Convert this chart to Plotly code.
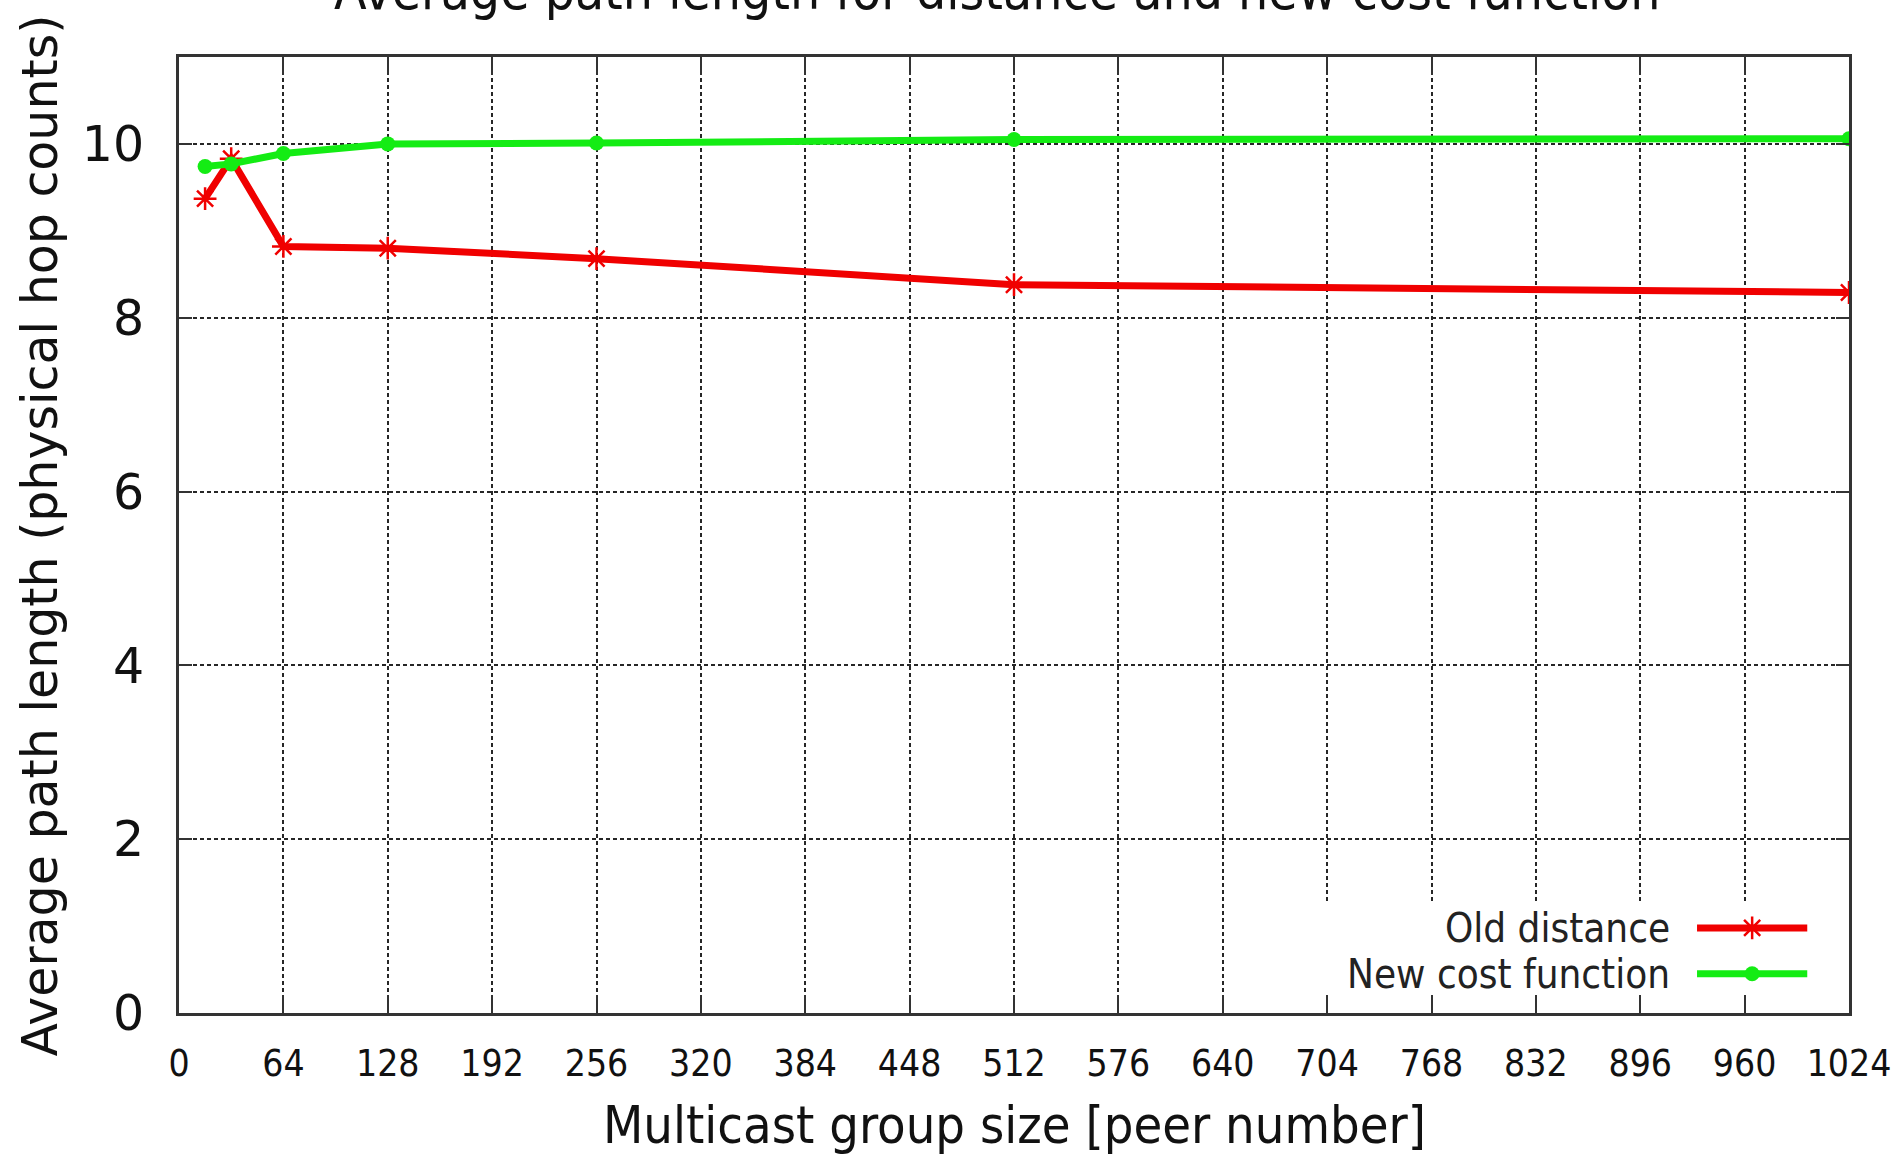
import plotly.graph_objects as go

# Average path length (hop counts) versus multicast group size
group_size = [16, 32, 64, 128, 256, 512, 1024]
old_distance = [9.37, 9.83, 8.82, 8.80, 8.68, 8.38, 8.29]
new_cost = [9.74, 9.77, 9.89, 10.00, 10.01, 10.05, 10.06]
series_names = ["Old distance", "New cost function"]
x_ticks = list(range(0, 1025, 64))
y_ticks = [0, 2, 4, 6, 8, 10]

title_text = "Average path length for distance and new cost function"
x_title = "Multicast group size [peer number]"
y_title = "Average path length (physical hop counts)"

RED = "#f00000"
GREEN = "#14ec14"
AXIS = "#333333"
GRID = "#262626"
COND = "DejaVu Sans Condensed, Liberation Sans Narrow, DejaVu Sans"
SANS = "DejaVu Sans"

W, H = 1902, 1156
ML, MR, MT, MB = 179, 53, 57, 143

fig = go.Figure()

series = [
    (old_distance, RED, dict(symbol="asterisk-open", size=19, color=RED,
                             line=dict(color=RED, width=2.5))),
    (new_cost, GREEN, dict(symbol="circle", size=15, color=GREEN)),
]

for (vals, col, mk), name in zip(series, series_names):
    fig.add_trace(go.Scatter(
        x=group_size, y=vals, name=name, mode="lines+markers",
        line=dict(color=col, width=7), marker=mk, showlegend=False,
    ))

# key drawn on a hidden unit overlay (text left, line sample right);
# an opaque white box underneath hides the grid lines behind the key
box_x = [0.684, 0.985, 0.985, 0.684, 0.684]
box_y = [0.019, 0.019, 0.115, 0.115, 0.019]
fig.add_trace(go.Scatter(
    x=box_x, y=box_y, mode="lines", fill="toself", fillcolor="white",
    line=dict(width=0, color="white"), xaxis="x2", yaxis="y2",
    showlegend=False, hoverinfo="skip",
))

key_rows = [0.089, 0.041]
key_x0, key_x1 = 0.909, 0.975
for (vals, col, mk), name, ky in zip(series, series_names, key_rows):
    fig.add_trace(go.Scatter(
        x=[key_x0, key_x1], y=[ky, ky], mode="lines",
        line=dict(color=col, width=7), xaxis="x2", yaxis="y2",
        showlegend=False, hoverinfo="skip",
    ))
    fig.add_trace(go.Scatter(
        x=[(key_x0 + key_x1) / 2], y=[ky], mode="markers", marker=mk,
        xaxis="x2", yaxis="y2", showlegend=False, hoverinfo="skip",
    ))
    fig.add_annotation(
        x=0.894, y=ky, xref="paper", yref="paper", text=name,
        showarrow=False, xanchor="right", yanchor="middle",
        font=dict(family=COND, size=40, color="#222222"),
    )

axis_common = dict(
    showline=True, linecolor=AXIS, linewidth=3, mirror="allticks",
    ticks="inside", tickcolor=AXIS, tickwidth=2,
    showgrid=True, gridcolor=GRID, gridwidth=2, griddash="4px,3px",
    zeroline=False, layer="above traces",
)

fig.update_xaxes(
    range=[0, 1024], tickvals=x_ticks, ticktext=[str(v) for v in x_ticks],
    ticklen=18, ticklabelstandoff=16,
    tickfont=dict(family=COND, size=37, color="#111111"),
    **axis_common,
)
fig.update_yaxes(
    range=[0, 11], tickvals=y_ticks, ticktext=[str(v) for v in y_ticks],
    ticklen=13, ticklabelstandoff=22,
    tickfont=dict(family=SANS, size=49, color="#111111"),
    **axis_common,
)

fig.update_layout(
    width=W, height=H,
    margin=dict(l=ML, r=MR, t=MT, b=MB, pad=0),
    paper_bgcolor="white", plot_bgcolor="white",
    xaxis2=dict(overlaying="x", range=[0, 1], visible=False),
    yaxis2=dict(overlaying="y", range=[0, 1], visible=False),
)

fig.add_annotation(
    x=0.49, y=1, xref="paper", yref="paper", yanchor="bottom", yshift=34,
    text=title_text, showarrow=False,
    font=dict(family=COND, size=53, color="#111111"),
)
fig.add_annotation(
    x=0.5, y=-0.1203, xref="paper", yref="paper", yanchor="middle",
    yshift=3, text=x_title, showarrow=False,
    font=dict(family=COND, size=52, color="#111111"),
)
fig.add_annotation(
    x=-0.083, y=0.5, xref="paper", yref="paper", xanchor="center",
    yanchor="middle", textangle=-90, text=y_title, showarrow=False,
    font=dict(family=SANS, size=49, color="#111111"),
)

fig.write_html("out.html")
